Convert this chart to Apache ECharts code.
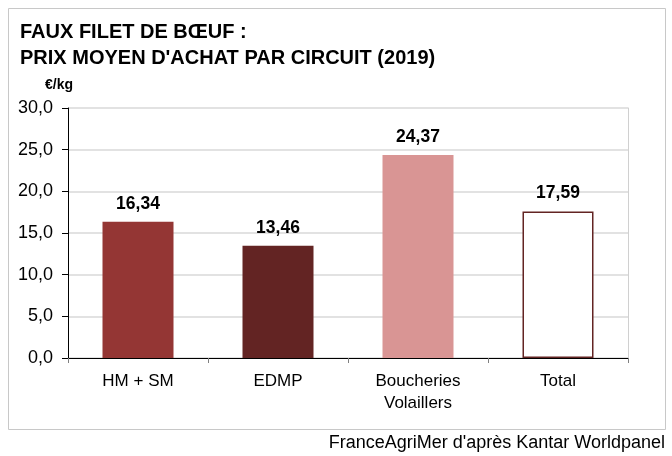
<!DOCTYPE html>
<html>
<head>
<meta charset="utf-8">
<script src="https://cdn.jsdelivr.net/npm/echarts@6/dist/echarts.min.js"></script>
<style>
  html, body { margin: 0; padding: 0; background: #fff; }
  #chart { width: 672px; height: 456px; }
</style>
</head>
<body>
<div id="chart"></div>
<script>
const CATEGORIES = ["HM + SM", "EDMP", "Boucheries\nVolaillers", "Total"];
const PRICES = [16.34, 13.46, 24.37, 17.59];
const BAR_COLORS = ["#943634", "#632423", "#d99594", "#ffffff"];
const TITLE_LINES = ["FAUX FILET DE BŒUF :", "PRIX MOYEN D'ACHAT PAR CIRCUIT (2019)"];
const UNIT = "€/kg";
const SOURCE = "FranceAgriMer d'après Kantar Worldpanel";

const FONT = "'Liberation Sans', Arial, sans-serif";
const fmt = (v, d) => v.toFixed(d).replace(".", ",");

const chart = echarts.init(document.getElementById("chart"), null, { renderer: "canvas" });

chart.setOption({
  animation: false,
  backgroundColor: "#fff",
  textStyle: { fontFamily: FONT },
  grid: { left: 68, right: 44, top: 108, bottom: 98 },
  graphic: [
    {
      type: "rect",
      shape: { x: 8.5, y: 8.5, width: 657, height: 421 },
      style: { fill: "none", stroke: "#c8c8c8", lineWidth: 1 },
      silent: true,
    },
    {
      type: "text",
      left: 20,
      top: 19,
      style: {
        text: TITLE_LINES.join("\n"),
        font: "bold 20px " + FONT,
        lineHeight: 26,
        fill: "#000",
      },
    },
    {
      type: "text",
      left: 45,
      top: 78,
      style: { text: UNIT, font: "bold 14px " + FONT, fill: "#000" },
    },
    {
      type: "text",
      right: 7,
      top: 434,
      style: { text: SOURCE, font: "18px " + FONT, fill: "#000" },
    },
  ],
  xAxis: {
    type: "category",
    data: CATEGORIES,
    axisLine: { lineStyle: { color: "#000", width: 1 } },
    axisTick: { show: true, length: 5, lineStyle: { color: "#808080" } },
    axisLabel: { color: "#000", fontSize: 17, margin: 12, lineHeight: 22, fontFamily: FONT },
  },
  yAxis: [
    {
      type: "value",
      min: 0,
      max: 30,
      interval: 5,
      axisLine: { show: true, lineStyle: { color: "#000", width: 1 } },
      axisTick: { show: true, length: 6, lineStyle: { color: "#000" } },
      axisLabel: {
        color: "#000",
        fontSize: 18,
        margin: 15,
        fontFamily: FONT,
        formatter: (v) => fmt(v, 1),
      },
      splitLine: { lineStyle: { color: "#d9d9d9", width: 1.5 } },
    },
    {
      type: "value",
      position: "right",
      min: 0,
      max: 30,
      interval: 5,
      axisLine: { show: true, lineStyle: { color: "#d0d0d0", width: 1 } },
      axisTick: { show: false },
      axisLabel: { show: false },
      splitLine: { show: false },
    },
  ],
  series: [
    {
      type: "bar",
      barWidth: 71,
      data: PRICES.map((v, i) => ({
        value: v,
        itemStyle: {
          color: BAR_COLORS[i],
          borderColor: i === 3 ? "#632423" : BAR_COLORS[i],
          borderWidth: i === 3 ? 1.5 : 0,
        },
      })),
      label: {
        show: true,
        position: "top",
        distance: 9,
        color: "#000",
        fontSize: 17.5,
        fontWeight: "bold",
        fontFamily: FONT,
        formatter: (p) => fmt(p.value, 2),
      },
    },
  ],
});
</script>
</body>
</html>
